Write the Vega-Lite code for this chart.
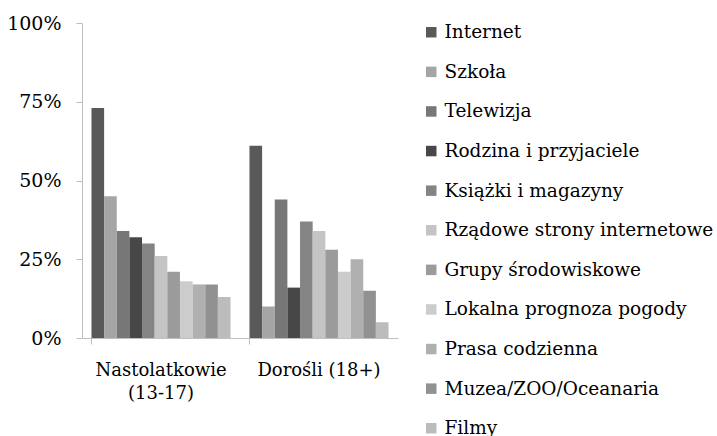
{
  "$schema": "https://vega.github.io/schema/vega-lite/v6.json",
  "width": 316,
  "height": 315,
  "padding": {"left": 82, "top": 23, "right": 319, "bottom": 98},
  "autosize": {"type": "none"},
  "background": "white",
  "config": {
    "view": {"stroke": null},
    "font": "DejaVu Serif"
  },
  "data": {
    "values": [
      {"group": "Nastolatkowie (13-17)", "source": "Internet", "value": 0.73},
      {"group": "Nastolatkowie (13-17)", "source": "Szkoła", "value": 0.45},
      {"group": "Nastolatkowie (13-17)", "source": "Telewizja", "value": 0.34},
      {"group": "Nastolatkowie (13-17)", "source": "Rodzina i przyjaciele", "value": 0.32},
      {"group": "Nastolatkowie (13-17)", "source": "Książki i magazyny", "value": 0.30},
      {"group": "Nastolatkowie (13-17)", "source": "Rządowe strony internetowe", "value": 0.26},
      {"group": "Nastolatkowie (13-17)", "source": "Grupy środowiskowe", "value": 0.21},
      {"group": "Nastolatkowie (13-17)", "source": "Lokalna prognoza pogody", "value": 0.18},
      {"group": "Nastolatkowie (13-17)", "source": "Prasa codzienna", "value": 0.17},
      {"group": "Nastolatkowie (13-17)", "source": "Muzea/ZOO/Oceanaria", "value": 0.17},
      {"group": "Nastolatkowie (13-17)", "source": "Filmy", "value": 0.13},
      {"group": "Dorośli (18+)", "source": "Internet", "value": 0.61},
      {"group": "Dorośli (18+)", "source": "Szkoła", "value": 0.10},
      {"group": "Dorośli (18+)", "source": "Telewizja", "value": 0.44},
      {"group": "Dorośli (18+)", "source": "Rodzina i przyjaciele", "value": 0.16},
      {"group": "Dorośli (18+)", "source": "Książki i magazyny", "value": 0.37},
      {"group": "Dorośli (18+)", "source": "Rządowe strony internetowe", "value": 0.34},
      {"group": "Dorośli (18+)", "source": "Grupy środowiskowe", "value": 0.28},
      {"group": "Dorośli (18+)", "source": "Lokalna prognoza pogody", "value": 0.21},
      {"group": "Dorośli (18+)", "source": "Prasa codzienna", "value": 0.25},
      {"group": "Dorośli (18+)", "source": "Muzea/ZOO/Oceanaria", "value": 0.15},
      {"group": "Dorośli (18+)", "source": "Filmy", "value": 0.05}
    ]
  },
  "mark": {"type": "bar"},
  "encoding": {
    "x": {
      "field": "group",
      "type": "nominal",
      "sort": null,
      "scale": {"paddingInner": 0.12, "paddingOuter": 0.06},
      "axis": {
        "title": null,
        "labelAngle": 0,
        "labelFontSize": 18,
        "labelColor": "#000000",
        "labelPadding": 17,
        "labelLineHeight": 23,
        "labelExpr": "datum.label == 'Nastolatkowie (13-17)' ? ['Nastolatkowie', '(13-17)'] : datum.label",
        "domainColor": "#bfbfbf",
        "tickColor": "#bfbfbf",
        "tickSize": 6,
        "bandPosition": 0
      }
    },
    "xOffset": {
      "field": "source",
      "type": "nominal",
      "sort": null,
      "scale": {"paddingInner": 0, "paddingOuter": 0}
    },
    "y": {
      "field": "value",
      "type": "quantitative",
      "scale": {"domain": [0, 1], "nice": false},
      "axis": {
        "title": null,
        "format": ".0%",
        "values": [0, 0.25, 0.5, 0.75, 1],
        "grid": false,
        "labelFontSize": 19,
        "labelColor": "#000000",
        "labelPadding": 15,
        "domainColor": "#bfbfbf",
        "tickColor": "#bfbfbf",
        "tickSize": 6
      }
    },
    "color": {
      "field": "source",
      "type": "nominal",
      "sort": null,
      "scale": {
        "domain": ["Internet", "Szkoła", "Telewizja", "Rodzina i przyjaciele", "Książki i magazyny", "Rządowe strony internetowe", "Grupy środowiskowe", "Lokalna prognoza pogody", "Prasa codzienna", "Muzea/ZOO/Oceanaria", "Filmy"],
        "range": ["#595959", "#a5a5a5", "#777777", "#474747", "#848484", "#c4c4c4", "#9b9b9b", "#cccccc", "#b0b0b0", "#919191", "#bcbcbc"]
      },
      "legend": {
        "title": null,
        "orient": "none",
        "legendX": 340,
        "legendY": 0,
        "symbolType": "square",
        "symbolSize": 110,
        "symbolStrokeWidth": 0,
        "symbolOpacity": 1,
        "labelFontSize": 18.5,
        "labelColor": "#000000",
        "labelOffset": 4,
        "rowPadding": 20.6,
        "labelLimit": 400
      }
    }
  }
}
